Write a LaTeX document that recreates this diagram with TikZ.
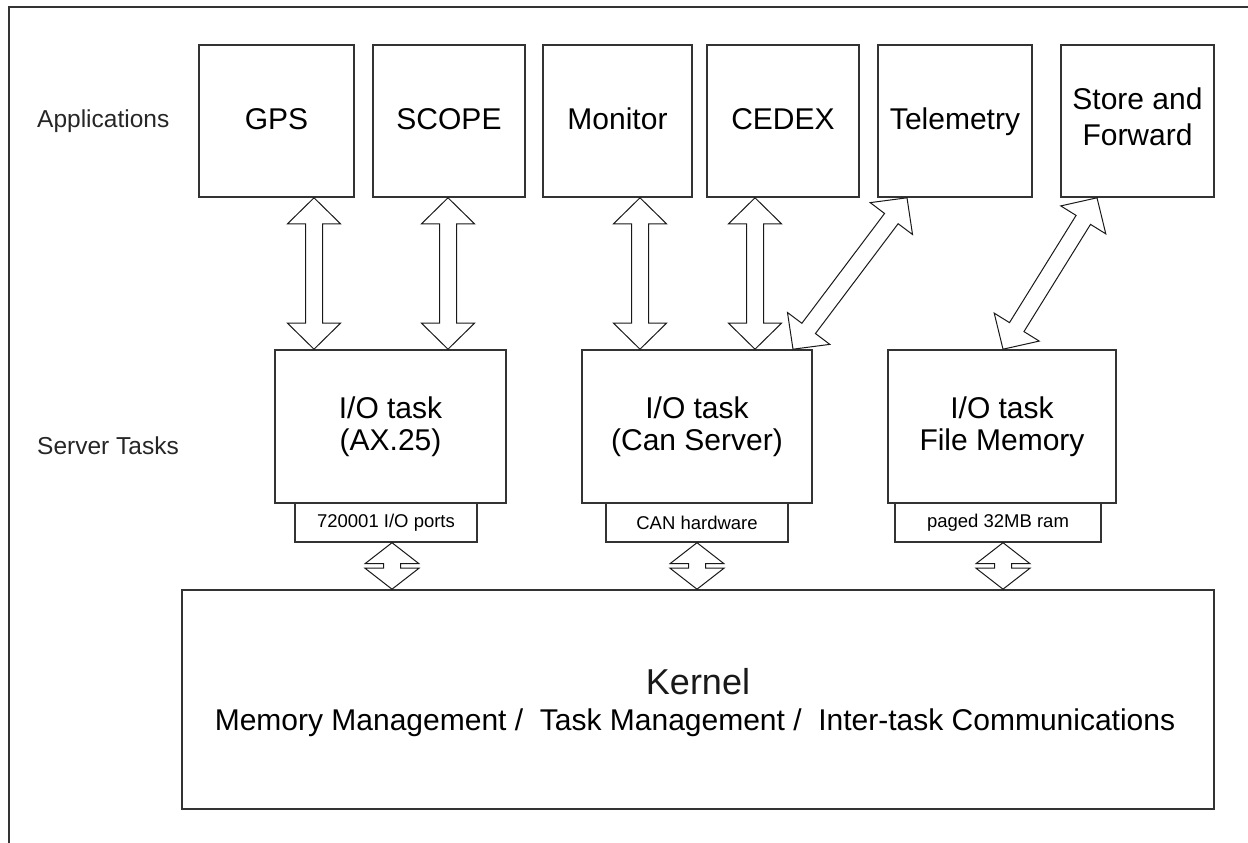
\documentclass[tikz,border=0pt]{standalone}
\usepackage{fontspec}
\setmainfont{Liberation Sans}
\usetikzlibrary{calc}

\tikzset{
  box/.style={draw=black!80, line width=1.6pt, inner sep=0pt, align=center,
    font=\fontsize{30}{32.5}\selectfont},
  onebox/.style={box, text depth=4pt},
  subbox/.style={draw=black!80, line width=1.4pt, inner sep=0pt,
    font=\fontsize{18.5}{20}\selectfont},
  sidelabel/.style={anchor=base west, inner sep=0pt, text=black!85,
    font=\fontsize{24.5}{26}\selectfont},
  blockline/.style={draw=black!90, line width=1pt, line join=miter},
  frameline/.style={draw=black!80, line width=1.5pt},
}

% Hollow double-headed block arrow between two points:
% #1 start, #2 end, #3 head length, #4 head half-width, #5 shaft half-width
\newcommand\blockarrow[5]{%
  \draw[blockline] (#1)
    -- ($(#1)!#3!(#2)!#4!90:(#2)$)
    -- ($(#1)!#3!(#2)!#5!90:(#2)$)
    -- ($(#2)!#3!(#1)!#5!-90:(#1)$)
    -- ($(#2)!#3!(#1)!#4!-90:(#1)$)
    -- (#2)
    -- ($(#2)!#3!(#1)!#4!90:(#1)$)
    -- ($(#2)!#3!(#1)!#5!90:(#1)$)
    -- ($(#1)!#3!(#2)!#5!-90:(#2)$)
    -- ($(#1)!#3!(#2)!#4!-90:(#2)$)
    -- cycle;}

\begin{document}
\begin{tikzpicture}[x=1pt, y=-1pt]
\useasboundingbox (0,0) rectangle (1248,843);

% outer frame (top and left edges)
\draw[frameline] (9,843) -- (9,7) -- (1248,7);

% layer labels
\node[sidelabel] (lapp) at (37,128) {Applications};
\node[sidelabel] (lsrv) at (37,454) {Server Tasks};

% applications
\node[onebox, minimum width=155, minimum height=152] (gps)   at (276.5,121) {GPS};
\node[onebox, minimum width=152, minimum height=152] (scope) at (449,121)   {SCOPE};
\node[onebox, minimum width=149, minimum height=152] (mon)   at (617.5,121) {Monitor};
\node[onebox, minimum width=152, minimum height=152] (cedex) at (783,121)   {CEDEX};
\node[onebox, minimum width=154, minimum height=152] (tel)   at (955,121)   {Telemetry};
\node[box, text depth=8pt, minimum width=153, minimum height=152,
      font=\fontsize{30}{36}\selectfont]          (saf)   at (1137.5,121) {Store and\\Forward};

% server tasks
\node[box, minimum width=231, minimum height=153] (ax)  at (390.5,426.5) {I/O task\\(AX.25)};
\node[box, minimum width=230, minimum height=153] (can) at (697,426.5)   {I/O task\\(Can Server)};
\node[box, minimum width=228, minimum height=153] (fm)  at (1002,426.5)  {I/O task\\File Memory};

% hardware strips under the server tasks
\node[subbox, minimum width=182, minimum height=39] (axhw)  at (386,522.5) {720001 I/O ports};
\node[subbox, minimum width=182, minimum height=39] (canhw) at (697,522.5) {CAN hardware};
\node[subbox, minimum width=206, minimum height=39] (fmhw)  at (998,522.5) {paged 32MB ram};

% kernel
\node[draw=black!80, line width=1.6pt, inner sep=0pt,
      minimum width=1032, minimum height=219] (kern) at (698,699.5) {};
\node[anchor=base, inner sep=0pt, text=black!90,
      font=\fontsize{36}{38}\selectfont] (kt1) at (698,694) {Kernel};
\node[anchor=base, inner sep=0pt,
      font=\fontsize{30}{32}\selectfont] (kt2) at (695,730)
  {Memory Management /\ \ Task Management /\ \ Inter-task Communications};

% arrow columns
\coordinate (x1) at (314,0);
\coordinate (x2) at (448,0);
\coordinate (x3) at (640,0);
\coordinate (x4) at (755,0);
\coordinate (x5t) at (907,0);
\coordinate (x5b) at (793,0);
\coordinate (x6t) at (1097,0);
\coordinate (x6b) at (1003,0);
\coordinate (k1) at (392,0);
\coordinate (k2) at (697,0);
\coordinate (k3) at (1003,0);

% arrow end points on the boxes
\coordinate (a1s) at (gps.south -| x1);   \coordinate (a1e) at (ax.north -| x1);
\coordinate (a2s) at (scope.south -| x2); \coordinate (a2e) at (ax.north -| x2);
\coordinate (a3s) at (mon.south -| x3);   \coordinate (a3e) at (can.north -| x3);
\coordinate (a4s) at (cedex.south -| x4); \coordinate (a4e) at (can.north -| x4);
\coordinate (a5s) at (tel.south -| x5t);  \coordinate (a5e) at (can.north -| x5b);
\coordinate (a6s) at (saf.south -| x6t);  \coordinate (a6e) at (fm.north -| x6b);
\coordinate (b1s) at (axhw.south -| k1);  \coordinate (b1e) at (kern.north -| k1);
\coordinate (b2s) at (canhw.south -| k2); \coordinate (b2e) at (kern.north -| k2);
\coordinate (b3s) at (fmhw.south -| k3);  \coordinate (b3e) at (kern.north -| k3);

% application <-> server task links
\blockarrow{a1s}{a1e}{26pt}{26.5pt}{8.5pt}
\blockarrow{a2s}{a2e}{26pt}{26.5pt}{8.5pt}
\blockarrow{a3s}{a3e}{26pt}{26.5pt}{8.5pt}
\blockarrow{a4s}{a4e}{26pt}{26.5pt}{8.5pt}
\blockarrow{a5s}{a5e}{26pt}{26.5pt}{8.5pt}
\blockarrow{a6s}{a6e}{26pt}{26.5pt}{8.5pt}

% hardware <-> kernel links
\blockarrow{b1s}{b1e}{21pt}{27pt}{8.5pt}
\blockarrow{b2s}{b2e}{21pt}{27pt}{8.5pt}
\blockarrow{b3s}{b3e}{21pt}{27pt}{8.5pt}
\end{tikzpicture}
\end{document}
